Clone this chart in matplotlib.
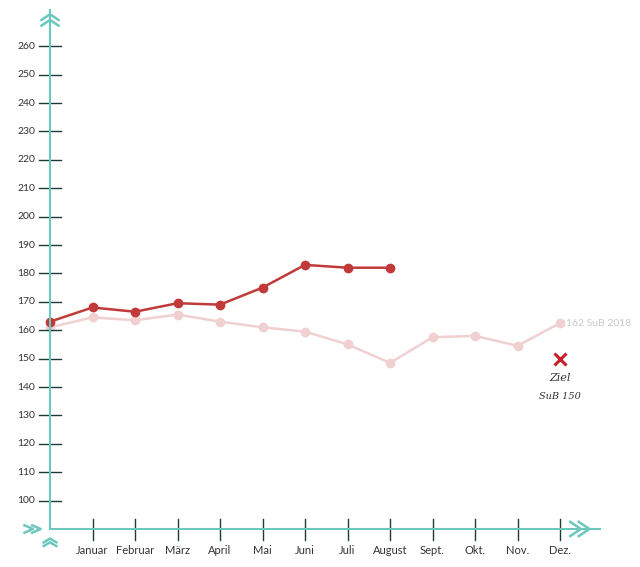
import matplotlib
matplotlib.use("Agg")
import matplotlib.pyplot as plt

months = ["Januar","Februar","März","April","Mai","Juni","Juli","August","Sept.","Okt.","Nov.","Dez."]
sub_2019 = [163, 168, 166.5, 169.5, 169, 175, 183, 182, 182]
sub_2018 = [161, 164.5, 163.5, 165.5, 163, 161, 159.5, 155, 148.5, 157.5, 158, 154.5, 162.5]
yticks = list(range(100, 270, 10))
ziel = 150

teal = "#6cc7bd"
dark = "#1e3c3c"
fig = plt.figure(figsize=(6.4, 5.67), dpi=100)
ax = fig.add_axes([50/640, 38/567, 550/640, 519/567])
ax.set_xlim(0, 550/42.5)
ax.set_ylim(90, 90 + 519/2.84)
for s in ["top", "right"]:
    ax.spines[s].set_visible(False)
for s in ["left", "bottom"]:
    ax.spines[s].set_color(teal); ax.spines[s].set_linewidth(1.5)
ax.set_xticks([]); ax.set_yticks([])

x18 = list(range(len(sub_2018)))
x19 = list(range(len(sub_2019)))
ax.plot(x18, sub_2018, color="#f0d0d0", lw=1.8, marker="o", ms=6, clip_on=False)
ax.plot(x19, sub_2019, color="#c03a3a", lw=1.8, marker="o", ms=6, clip_on=False)
ax.text(x18[-1] + 0.15, sub_2018[-1], "162 SuB 2018", color="#c8c8c8", fontsize=7.5, va="center", family="Lato")
ax.plot([12], [ziel], marker="x", color="#c8202a", ms=9, mew=2.2)
ax.text(12, 143.2, "Ziel", ha="center", va="center", fontsize=8, style="italic", family="DejaVu Serif", color="#333")
ax.text(12, 136.5, "SuB 150", ha="center", va="center", fontsize=7, style="italic", family="DejaVu Serif", color="#333")

for v in yticks:
    ax.plot([-0.25, 0.27], [v, v], color=dark, lw=1.0, clip_on=False)
    ax.text(-0.35, v, str(v), ha="right", va="center", fontsize=7.5, color="#333", family="Lato")
for i, m in enumerate(months, start=1):
    ax.plot([i, i], [86, 93.5], color=dark, lw=1.0, clip_on=False)
    ax.text(i, 82.5, m, ha="center", va="center", fontsize=8, color="#333", family="Lato")

def chev(xs, ys):
    ax.plot(xs, ys, color=teal, lw=1.8, clip_on=False)
ytop = 90 + 519/2.84
for d in (0, 2.0):
    chev([-0.2, 0, 0.2], [ytop - 3.5 - d, ytop - 1.5 - d, ytop - 3.5 - d])
xr = 550/42.5
for d in (0, 0.2):
    chev([xr - 0.5 - d, xr - 0.25 - d, xr - 0.5 - d], [92.5, 90, 87.5])
for d in (0, 0.18):
    chev([-0.6 + d, -0.4 + d, -0.6 + d], [91.3, 90, 88.7])
for d in (0, 1.3):
    chev([-0.15, 0, 0.15], [84 + d, 85.3 + d, 84 + d])
fig.savefig("out.png", dpi=100)
